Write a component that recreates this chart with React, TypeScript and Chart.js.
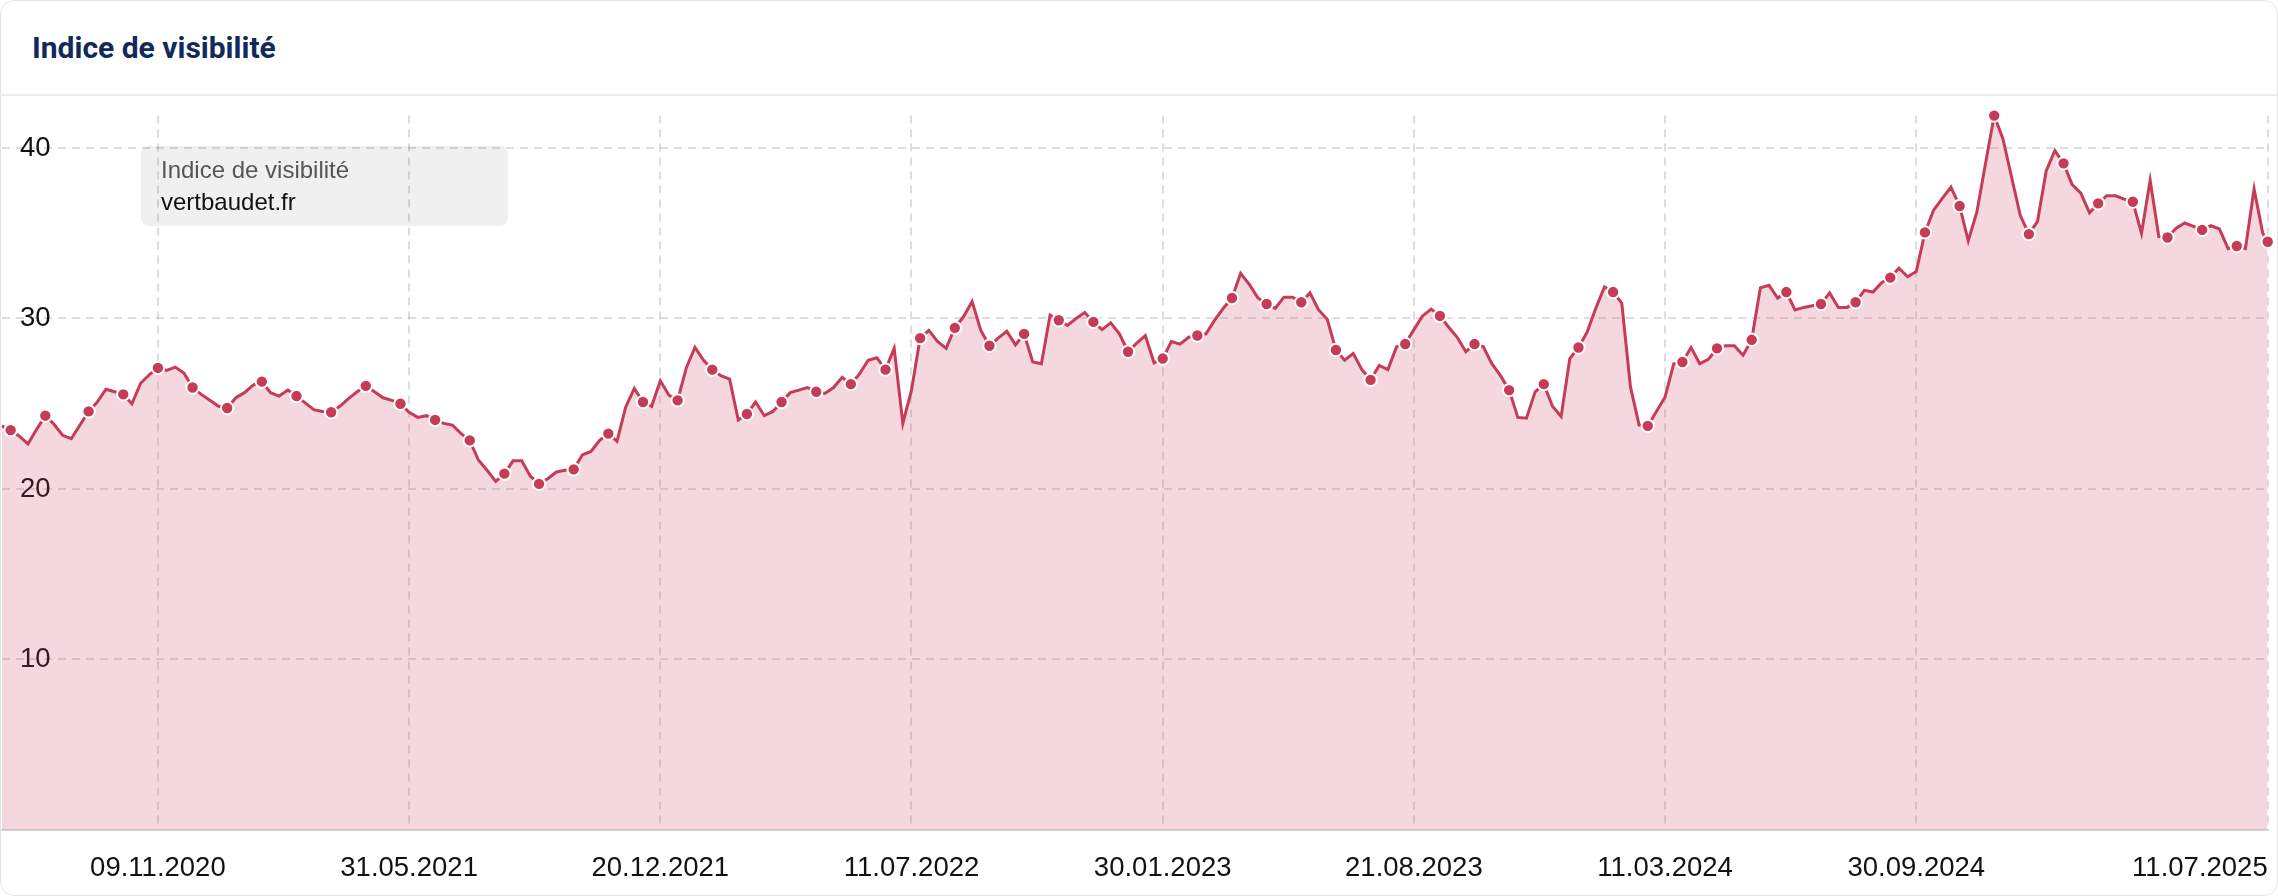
import React, { useEffect, useRef } from 'react';
import { Chart, registerables } from 'chart.js';

Chart.register(...registerables);

// ---- data -------------------------------------------------------------
const firstWeek = '06.07.2020'; // first weekly value (Mondays)
const lastDate = '11.07.2025'; // final (daily) value

const visibility: number[] = [
  23.7, 23.45, 23.1, 22.65, 23.5, 24.3, 23.8, 23.15, 22.95, 23.75,
  24.55, 25.1, 25.85, 25.7, 25.55, 25.0, 26.2, 26.7, 27.1, 26.95,
  27.15, 26.8, 25.95, 25.55, 25.2, 24.85, 24.75, 25.35, 25.65, 26.1,
  26.3, 25.65, 25.45, 25.8, 25.45, 25.05, 24.65, 24.55, 24.5, 24.85,
  25.3, 25.7, 26.05, 25.7, 25.35, 25.2, 25.0, 24.5, 24.2, 24.3,
  24.05, 23.85, 23.75, 23.25, 22.85, 21.7, 21.1, 20.45, 20.9, 21.65,
  21.65, 20.75, 20.3, 20.6, 21.0, 21.1, 21.15, 22.0, 22.2, 22.85,
  23.25, 22.8, 24.8, 25.9, 25.1, 24.85, 26.35, 25.5, 25.2, 27.1,
  28.3, 27.55, 27.0, 26.65, 26.45, 24.05, 24.4, 25.1, 24.3, 24.55,
  25.1, 25.65, 25.8, 25.95, 25.7, 25.6, 25.95, 26.55, 26.15, 26.75,
  27.55, 27.7, 27.0, 28.25, 23.85, 25.8, 28.85, 29.3, 28.65, 28.25,
  29.45, 30.1, 31.0, 29.3, 28.4, 28.85, 29.25, 28.45, 29.1, 27.45,
  27.35, 30.2, 29.9, 29.6, 30.0, 30.35, 29.8, 29.35, 29.75, 29.1,
  28.05, 28.55, 29.0, 27.4, 27.65, 28.65, 28.5, 28.9, 29.0, 29.1,
  29.9, 30.6, 31.2, 32.65, 32.0, 31.2, 30.85, 30.6, 31.25, 31.25,
  30.95, 31.5, 30.5, 29.95, 28.15, 27.55, 27.95, 27.0, 26.4, 27.25,
  27.0, 28.35, 28.5, 29.35, 30.15, 30.55, 30.15, 29.5, 28.9, 28.05,
  28.5, 28.35, 27.35, 26.65, 25.8, 24.2, 24.15, 25.7, 26.15, 24.85,
  24.25, 27.65, 28.3, 29.2, 30.6, 31.85, 31.55, 30.9, 26.0, 23.75,
  23.7, 24.55, 25.4, 27.35, 27.45, 28.3, 27.35, 27.6, 28.25, 28.4,
  28.4, 27.85, 28.75, 31.8, 31.95, 31.2, 31.55, 30.5, 30.65, 30.75,
  30.85, 31.5, 30.65, 30.65, 30.95, 31.65, 31.55, 32.1, 32.4, 32.95,
  32.45, 32.75, 35.05, 36.35, 37.05, 37.7, 36.6, 34.55, 36.25, 39.1,
  41.9, 40.55, 38.3, 36.05, 34.95, 35.7, 38.65, 39.85, 39.1, 37.85,
  37.35, 36.2, 36.75, 37.2, 37.2, 37.0, 36.85, 35.0, 38.1, 34.8,
  34.75, 35.3, 35.6, 35.4, 35.2, 35.45, 35.25, 34.1, 34.25, 34.1,
  37.6, 35.0,
  34.5,
];

const tickLabels = [
  '09.11.2020', '31.05.2021', '20.12.2021', '11.07.2022', '30.01.2023',
  '21.08.2023', '11.03.2024', '30.09.2024', '11.07.2025',
];

const yTicks = [10, 20, 30, 40];
const seriesLabel = 'Indice de visibilité';
const domainLabel = 'vertbaudet.fr';
const titleText = 'Indice de visibilité';

// ---- styles -----------------------------------------------------------
const LINE = '#c63c58';
const FILL = 'rgba(198, 60, 88, 0.2)';
const GRID = 'rgba(0, 0, 0, 0.13)';
const FONT = '"Liberation Sans", Arial, Helvetica, sans-serif';
const TICK_SIZE = 27.5;

const dayOf = (s: string) => {
  const [d, m, y] = s.split('.').map(Number);
  return Date.UTC(y, m - 1, d) / 86400000;
};

const markers = new Set<number>([1, 5]);
for (let i = 10; i <= 258; i += 4) markers.add(i);
markers.add(visibility.length - 1);

const zeroPad = (s: any) => {
  s.paddingLeft = 0;
  s.paddingRight = 0;
  s.paddingTop = 0;
  s.paddingBottom = 0;
};

const xLabelPlugin = {
  id: 'xLabels',
  afterDraw(chart: any) {
    const { ctx, chartArea } = chart;
    const x = chart.scales.x;
    ctx.save();
    ctx.font = `${TICK_SIZE}px ${FONT}`;
    ctx.fillStyle = '#111';
    ctx.textBaseline = 'middle';
    ctx.textAlign = 'center';
    tickLabels.forEach((l) => {
      const px = x.getPixelForValue(dayOf(l));
      const w = ctx.measureText(l).width;
      const cx = Math.min(px, chartArea.right - w / 2);
      ctx.fillText(l, cx, chartArea.bottom + 38);
    });
    ctx.restore();
  },
};

export default function App() {
  const ref = useRef<HTMLCanvasElement | null>(null);

  useEffect(() => {
    document.body.style.margin = '0';
    const canvas = ref.current;
    if (!canvas) return;
    const start = dayOf(firstWeek);
    const points = visibility.map((v, i) => ({
      x: i === visibility.length - 1 ? dayOf(lastDate) : start + 7 * i,
      y: v,
    }));
    const chart = new Chart(canvas, {
      type: 'line',
      data: {
        datasets: [
          {
            label: seriesLabel,
            data: points,
            borderColor: LINE,
            borderWidth: 3,
            backgroundColor: FILL,
            fill: 'origin',
            tension: 0,
            clip: false,
            pointRadius: (c: any) => (markers.has(c.dataIndex) ? 6.2 : 0),
            pointHoverRadius: 0,
            pointBackgroundColor: LINE,
            pointBorderColor: '#ffffff',
            pointBorderWidth: 2,
          } as any,
        ],
      },
      options: {
        responsive: false,
        maintainAspectRatio: false,
        animation: false,
        events: [],
        layout: { autoPadding: false, padding: { top: 18.6, bottom: 66, left: 2, right: 10.3 } },
        plugins: { legend: { display: false }, tooltip: { enabled: false } },
        scales: {
          x: {
            type: 'linear',
            min: dayOf(firstWeek),
            max: dayOf(lastDate),
            afterBuildTicks: (s: any) => {
              s.ticks = tickLabels.map((l) => ({ value: dayOf(l) }));
            },
            afterFit: (s: any) => {
              s.height = 0;
              zeroPad(s);
            },
            ticks: { display: false },
            grid: { color: GRID, lineWidth: 2, drawTicks: false },
            border: { display: true, color: '#d9d9d9', width: 2, dash: [8, 6] },
          },
          y: {
            min: 0,
            max: 41.9,
            afterFit: (s: any) => {
              s.width = 0;
              zeroPad(s);
            },
            afterBuildTicks: (s: any) => {
              s.ticks = [0, ...yTicks].map((v) => ({ value: v }));
            },
            ticks: {
              mirror: true,
              padding: 18,
              color: '#111',
              font: { family: FONT, size: TICK_SIZE },
              callback: (v: any) => (v === 0 ? '' : String(v)),
            },
            grid: {
              color: (c: any) => (c.tick && c.tick.value === 0 ? 'rgba(0,0,0,0)' : GRID),
              lineWidth: 2,
              drawTicks: false,
            },
            border: { display: false, dash: [8, 6] },
          },
        },
      } as any,
      plugins: [xLabelPlugin],
    });
    return () => chart.destroy();
  }, []);

  return (
    <div
      style={{
        position: 'fixed',
        left: 0,
        top: 0,
        width: 2278,
        height: 896,
        background: '#ffffff',
        borderRadius: 14,
        overflow: 'hidden',
      }}
    >
      <div
        style={{
          position: 'absolute',
          left: 32,
          top: 33,
          fontFamily: 'Roboto, "Liberation Sans", Arial, sans-serif',
          fontWeight: 700,
          fontSize: 30,
          lineHeight: '30px',
          color: '#102a5c',
          whiteSpace: 'nowrap',
        }}
      >
        {titleText}
      </div>
      <div style={{ position: 'absolute', left: 0, top: 94, width: 2278, height: 2, background: '#ececec' }} />
      <canvas
        ref={ref}
        width={2278}
        height={799}
        style={{ position: 'absolute', left: 0, top: 97, width: 2278, height: 799 }}
      />
      <div
        style={{
          position: 'absolute',
          left: 141,
          top: 146,
          width: 367,
          height: 80,
          borderRadius: 8,
          background: 'rgba(0,0,0,0.06)',
        }}
      />
      <div
        style={{
          position: 'absolute',
          left: 161,
          top: 157.7,
          fontFamily: FONT,
          fontSize: 24,
          lineHeight: '24px',
          color: '#555555',
          whiteSpace: 'nowrap',
        }}
      >
        {seriesLabel}
      </div>
      <div
        style={{
          position: 'absolute',
          left: 161,
          top: 189.7,
          fontFamily: FONT,
          fontSize: 24,
          lineHeight: '24px',
          color: '#111111',
          whiteSpace: 'nowrap',
        }}
      >
        {domainLabel}
      </div>
      <div
        style={{
          position: 'absolute',
          left: 0,
          top: 0,
          width: 2278,
          height: 896,
          boxSizing: 'border-box',
          border: '1px solid #e3e3e3',
          borderRadius: 14,
          pointerEvents: 'none',
        }}
      />
    </div>
  );
}
